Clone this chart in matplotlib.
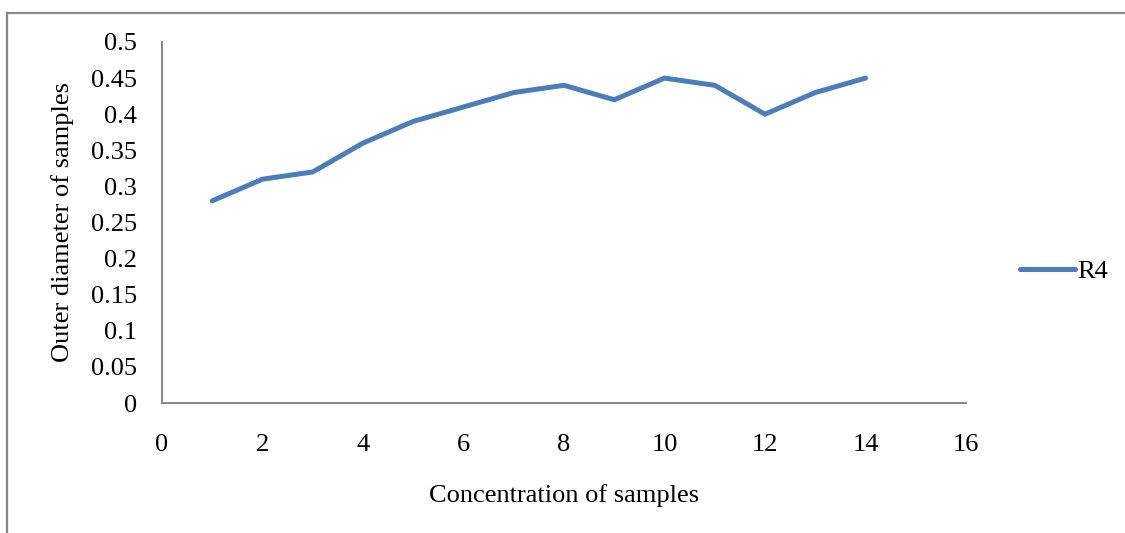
import matplotlib.pyplot as plt
from matplotlib.lines import Line2D
from matplotlib.patches import Rectangle

concentration = [1, 2, 3, 4, 5, 6, 7, 8, 9, 10, 11, 12, 13, 14]
outer_diameter = [0.28, 0.31, 0.32, 0.36, 0.39, 0.41, 0.43, 0.44, 0.42, 0.45, 0.44, 0.40, 0.43, 0.45]
x_ticks = [0, 2, 4, 6, 8, 10, 12, 14, 16]
y_ticks = [0, 0.05, 0.1, 0.15, 0.2, 0.25, 0.3, 0.35, 0.4, 0.45, 0.5]
y_tick_labels = ["0", "0.05", "0.1", "0.15", "0.2", "0.25", "0.3", "0.35", "0.4", "0.45", "0.5"]

LINE_COLOR = "#4A7EBB"
AXIS_COLOR = "#868686"
FONT_SIZE = 19
LINE_WIDTH = 3.6

plt.rcParams["font.family"] = ["Liberation Serif", "DejaVu Serif"]
plt.rcParams["font.size"] = FONT_SIZE

W, H = 1125, 533
fig = plt.figure(figsize=(W / 100, H / 100), dpi=100)

# chart-area outline (only left and top edges fall inside the image)
fig.patches.append(Rectangle((7 / W, -0.1), 1.2, (H - 13) / H + 0.1,
                             transform=fig.transFigure, fill=False,
                             edgecolor="#898989", linewidth=1.6))

ax = fig.add_axes([162 / W, (H - 403) / H, (966 - 162) / W, (403 - 42) / H])
ax.plot(concentration, outer_diameter, color=LINE_COLOR, linewidth=LINE_WIDTH,
        solid_capstyle="round", solid_joinstyle="miter")

ax.set_xlim(0, 16)
ax.set_ylim(0, 0.5)
ax.set_xticks(x_ticks)
ax.set_yticks(y_ticks, labels=y_tick_labels)
ax.tick_params(axis="both", length=0, labelsize=FONT_SIZE)
ax.tick_params(axis="x", pad=22.5)
ax.tick_params(axis="y", pad=18)

for side in ("top", "right"):
    ax.spines[side].set_visible(False)
for side in ("left", "bottom"):
    ax.spines[side].set_color(AXIS_COLOR)
    ax.spines[side].set_linewidth(1.4)

ax.set_xlabel("Concentration of samples", fontsize=FONT_SIZE, labelpad=20)
ax.set_ylabel("Outer diameter of samples", fontsize=FONT_SIZE, labelpad=12)

handle = Line2D([], [], color=LINE_COLOR, linewidth=LINE_WIDTH, solid_capstyle="round")
fig.legend([handle], ["R4"], loc="center left", bbox_to_anchor=(1020 / W, (H - 271) / H),
           frameon=False, handlelength=2.1, handletextpad=0.05, borderaxespad=0,
           borderpad=0, fontsize=FONT_SIZE)

fig.savefig("out.png", dpi=100)
